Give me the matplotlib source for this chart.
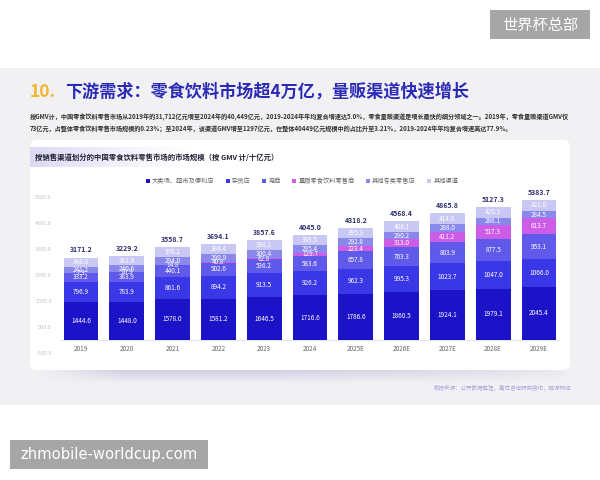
import matplotlib
matplotlib.use("Agg")
import matplotlib.pyplot as plt
from matplotlib.patches import FancyBboxPatch, Rectangle
from matplotlib.colors import to_rgb
import numpy as np

plt.rcParams['font.family'] = ['Noto Sans CJK SC', 'DejaVu Sans']

# --- data (十亿元, GMV) ---
years = ["2019", "2020", "2021", "2022", "2023", "2024",
         "2025E", "2026E", "2027E", "2028E", "2029E"]
hypermarket = [1444.6, 1448.0, 1578.0, 1581.2, 1646.5, 1716.6, 1786.6, 1860.5, 1924.1, 1979.1, 2045.4]
grocery = [796.9, 783.9, 861.6, 894.2, 913.5, 926.2, 962.3, 995.3, 1023.7, 1047.0, 1066.0]
ecommerce = [333.2, 383.9, 440.1, 502.6, 536.2, 583.6, 657.8, 703.3, 803.9, 877.5, 953.1]
bulk_snack = [7.3, 10.9, 14.8, 40.8, 62.8, 129.7, 223.4, 313.0, 411.2, 517.3, 613.7]
specialty = [241.2, 240.6, 294.0, 290.9, 300.4, 295.4, 292.8, 290.2, 288.0, 286.1, 284.5]
other = [348.0, 361.9, 370.2, 384.4, 398.2, 393.5, 395.3, 406.1, 414.9, 420.3, 421.0]
totals = [3171.2, 3229.2, 3558.7, 3694.1, 3857.6, 4045.0, 4318.2, 4568.4, 4865.8, 5127.3, 5383.7]

series_names = ["大卖场、超市及便利店", "杂货店", "电商", "量贩零食饮料零售商", "其他专卖零售店", "其他渠道"]
series_values = [hypermarket, grocery, ecommerce, bulk_snack, specialty, other]
series_colors = ["#1c12c8", "#3a37e6", "#5f5ae9", "#cd5ce6", "#8b88ec", "#c9c7f4"]
yticks = [-500, 500, 1500, 2500, 3500, 4500, 5500]

title_num = "10."
title_text = "下游需求：零食饮料市场超4万亿，量贩渠道快速增长"
desc_line1 = ("按GMV计，中国零食饮料零售市场从2019年的31,712亿元增至2024年的40,449亿元，"
              "2019-2024年年均复合增速达5.0%，零食量贩渠道是增长最快的细分领域之一。2019年，零食量贩渠道GMV仅")
desc_line2 = ("73亿元，占整体零食饮料零售市场规模的0.23%；至2024年，该渠道GMV增至1297亿元，"
              "在整体40449亿元规模中的占比升至3.21%，2019-2024年年均复合增速高达77.9%。")
chart_title = "按销售渠道划分的中国零食饮料零售市场的市场规模（按 GMV 计/十亿元）"
source_text = "数据来源：公开数据整理，嘉世咨询研究结论，鹏源网络"

fig = plt.figure(figsize=(6, 4.8), dpi=100)
fig.patch.set_facecolor("white")

# background layer in pixel coordinates
bg = fig.add_axes([0, 0, 1, 1], zorder=0)
bg.set_xlim(0, 600)
bg.set_ylim(480, 0)
bg.axis("off")

bg.add_patch(Rectangle((0, 68), 600, 337, color="#f1f1f4", lw=0))

# card shadow
shadow = np.zeros((20, 60, 4))
shadow[..., :3] = to_rgb("#bcb9d6")
fade_y = np.linspace(0.9, 0.0, 20)[:, None]
fade_x = np.clip(np.linspace(1.6, 0.0, 60), 0, 1)[None, :] ** 0.5
fade_x = np.minimum(fade_x, np.clip(np.linspace(0.0, 6.0, 60), 0, 1)[None, :])
shadow[..., 3] = fade_y * fade_x
bg.imshow(shadow, extent=(34, 575, 384, 364), aspect="auto", zorder=1, interpolation="bilinear")

bg.add_patch(FancyBboxPatch((30, 140), 540, 230, boxstyle="round,pad=0,rounding_size=7",
                            fc="white", ec="none", zorder=2))

# header gradient band
band = np.zeros((1, 100, 4))
band[..., :3] = to_rgb("#dcd9f5")
band[..., 3] = np.linspace(1, 0, 100) ** 1.3
bg.imshow(band, extent=(30, 200, 167, 147), aspect="auto", zorder=3, interpolation="bilinear")

bg.text(30, 92, title_num, color="#f2b630", fontsize=12.5, fontweight="bold", va="center", ha="left", zorder=4)
bg.text(65, 92, title_text, color="#2a2ab5", fontsize=12.3, fontweight="bold", va="center", ha="left", zorder=4)
bg.text(30, 117, desc_line1, color="#333333", fontsize=4.45, fontweight="bold", va="center", ha="left", zorder=4)
bg.text(30, 129.5, desc_line2, color="#333333", fontsize=4.45, fontweight="bold", va="center", ha="left", zorder=4)
bg.text(35, 157, chart_title, color="#222233", fontsize=5.3, fontweight="bold", va="center", ha="left", zorder=4)
bg.text(571, 387, source_text, color="#aaa6dc", fontsize=4.0, va="center", ha="right", zorder=4)

# watermarks
bg.add_patch(Rectangle((490, 10), 100, 29, color="#a6a6a6", lw=0, zorder=5))
bg.text(540, 25, "世界杯总部", color="white", fontsize=11, va="center", ha="center", zorder=6)
bg.add_patch(Rectangle((10, 440), 198, 29, color="#a6a6a6", lw=0, zorder=5))
bg.text(109, 455, "zhmobile-worldcup.com", color="white", fontsize=10.6, va="center", ha="center",
        family=["DejaVu Sans"], zorder=6)

# chart
ax = fig.add_axes([60 / 600, 1 - 353 / 480, 500 / 600, 156 / 480], zorder=1)
ax.set_facecolor("none")
x = np.arange(len(years))
bottom = np.zeros(len(years))
containers = []
for name, vals, col in zip(series_names, series_values, series_colors):
    vals = np.array(vals)
    bc = ax.bar(x, vals, width=0.76, bottom=bottom, color=col, label=name, zorder=2)
    ax.bar_label(bc, fmt="%.1f", label_type="center", color="white", fontsize=4.6, zorder=3)
    containers.append(bc)
    bottom += vals

ax.bar_label(containers[-1], labels=[f"{t:.1f}" for t in totals], padding=3,
             color="#2e2e6e", fontsize=5, fontweight="bold")

for i, yr in enumerate(years):
    ax.text(i, -330, yr, ha="center", va="center", fontsize=4.6, color="#666666")

ax.axhline(0, color="#e4e4ea", lw=0.8, zorder=1)
ax.set_xlim(-0.46, len(years) - 1 + 0.46)
ax.set_ylim(-500, 5500)
ax.set_yticks(yticks)
ax.set_yticklabels([f"{v:.1f}" for v in yticks], color="#c2c2cc", fontsize=4)
ax.tick_params(axis="y", length=0, pad=6)
ax.set_xticks([])
for s in ax.spines.values():
    s.set_visible(False)

ax.legend(handles=containers, labels=series_names, ncol=6, loc="center",
          bbox_to_anchor=(302 / 600, 1 - 181 / 480), bbox_transform=fig.transFigure,
          frameon=False, fontsize=4.5, handlelength=0.7, handleheight=0.7,
          handletextpad=0.3, columnspacing=1.8, labelcolor="#666666")

fig.savefig("out.png", dpi=100, facecolor="white")
